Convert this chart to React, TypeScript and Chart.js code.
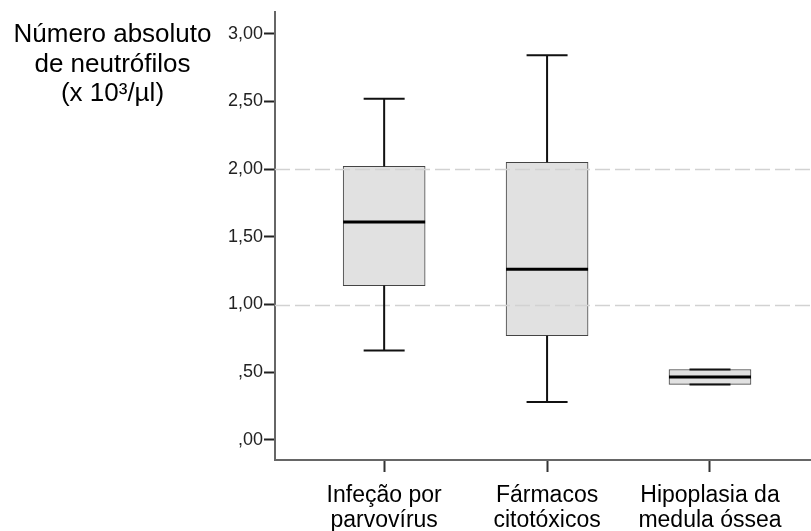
import React, { useEffect, useRef } from "react";
import { Chart, registerables } from "chart.js";

Chart.register(...registerables);

const categories: string[][] = [
  ["Infeção por", "parvovírus"],
  ["Fármacos", "citotóxicos"],
  ["Hipoplasia da", "medula óssea"],
];
const positions = [1, 2, 3];
const mins = [0.66, 0.28, 0.41];
const q1s = [1.14, 0.77, 0.41];
const medians = [1.61, 1.26, 0.465];
const q3s = [2.02, 2.05, 0.52];
const maxs = [2.52, 2.84, 0.52];
const yTicks = [0, 0.5, 1, 1.5, 2, 2.5, 3];
const yTickLabels = [",00", ",50", "1,00", "1,50", "2,00", "2,50", "3,00"];
const refLines = [1, 2];
const yTitleLines = ["Número absoluto", "de neutrófilos", "(x 10³/µl)"];

const FONT = "'Liberation Sans', Arial, sans-serif";

const boxPlugin = {
  id: "boxExtras",
  afterDatasetsDraw(chart: any) {
    const { ctx, chartArea, scales } = chart;
    const xs = scales.x;
    const ys = scales.y;
    ctx.save();
    ctx.strokeStyle = "#d2d2d2";
    ctx.lineWidth = 1.5;
    ctx.setLineDash([15, 5]);
    refLines.forEach((v) => {
      const y = Math.round(ys.getPixelForValue(v)) + 0.5;
      ctx.beginPath();
      ctx.moveTo(chartArea.left, y);
      ctx.lineTo(chartArea.right, y);
      ctx.stroke();
    });
    ctx.setLineDash([]);
    const capHalf = 20.5;
    positions.forEach((p, i) => {
      const x = xs.getPixelForValue(p);
      const yMin = ys.getPixelForValue(mins[i]);
      const yQ1 = ys.getPixelForValue(q1s[i]);
      const yQ3 = ys.getPixelForValue(q3s[i]);
      const yMax = ys.getPixelForValue(maxs[i]);
      const yMed = ys.getPixelForValue(medians[i]);
      ctx.strokeStyle = "#111";
      ctx.lineWidth = 2;
      ctx.beginPath();
      ctx.moveTo(x, yQ3);
      ctx.lineTo(x, yMax);
      ctx.moveTo(x - capHalf, yMax);
      ctx.lineTo(x + capHalf, yMax);
      ctx.moveTo(x, yQ1);
      ctx.lineTo(x, yMin);
      ctx.moveTo(x - capHalf, yMin);
      ctx.lineTo(x + capHalf, yMin);
      ctx.stroke();
      const bw = 82;
      ctx.strokeStyle = "#000";
      ctx.lineWidth = 3;
      ctx.beginPath();
      ctx.moveTo(x - bw / 2, yMed);
      ctx.lineTo(x + bw / 2, yMed);
      ctx.stroke();
    });
    ctx.restore();
  },
};

export default function App() {
  const canvasRef = useRef<HTMLCanvasElement | null>(null);

  useEffect(() => {
    if (!canvasRef.current) return;
    const chart = new Chart(canvasRef.current, {
      type: "bar",
      data: {
        datasets: [
          {
            data: positions.map((p, i) => ({ x: p, y: [q1s[i], q3s[i]] })) as any,
            backgroundColor: "#e1e1e1",
            borderColor: "#444",
            borderWidth: 1,
            borderSkipped: false,
            barThickness: 82,
          },
        ],
      },
      options: {
        animation: false,
        responsive: true,
        maintainAspectRatio: false,
        layout: { padding: { left: 200, top: 12, right: 0, bottom: 0 } },
        plugins: { legend: { display: false }, tooltip: { enabled: false } },
        scales: {
          x: {
            type: "linear",
            offset: false,
            min: 0.33,
            max: 3.62,
            afterBuildTicks: (s: any) => {
              s.ticks = positions.map((v) => ({ value: v }));
            },
            afterFit: (s: any) => {
              s.height = 71;
            },
            ticks: {
              autoSkip: false,
              maxRotation: 0,
              minRotation: 0,
              padding: 12,
              color: "#000",
              font: { family: FONT, size: 23, lineHeight: 1.05 },
              callback: (v: any) => categories[positions.indexOf(Number(v))] ?? "",
            },
            grid: {
              offset: false,
              drawOnChartArea: false,
              drawTicks: true,
              tickLength: 12,
              tickColor: "#333",
              tickWidth: 2,
            },
            border: { display: true, color: "#666", width: 2 },
          },
          y: {
            type: "linear",
            min: -0.148,
            max: 3.16,
            afterBuildTicks: (s: any) => {
              s.ticks = yTicks.map((v) => ({ value: v }));
            },
            afterFit: (s: any) => {
              s.width = 75;
            },
            ticks: {
              autoSkip: false,
              padding: 1,
              color: "#222",
              font: { family: FONT, size: 18 },
              callback: (v: any) => yTickLabels[yTicks.indexOf(Number(v))] ?? "",
            },
            grid: {
              drawOnChartArea: false,
              drawTicks: true,
              tickLength: 11,
              tickColor: "#222",
              tickWidth: 2,
            },
            border: { display: true, color: "#666", width: 2 },
          },
        },
      },
      plugins: [boxPlugin],
    });
    return () => chart.destroy();
  }, []);

  return (
    <div style={{ position: "absolute", left: 0, top: 0, width: 811, height: 531, background: "#fff" }}>
      <canvas ref={canvasRef} />
      <div
        style={{
          position: "absolute",
          left: 0,
          top: 19,
          width: 225,
          textAlign: "center",
          fontFamily: FONT,
          fontSize: 26,
          lineHeight: "29.5px",
          color: "#000",
        }}
      >
        {yTitleLines.map((l, i) => (
          <div key={i}>{l}</div>
        ))}
      </div>
    </div>
  );
}
